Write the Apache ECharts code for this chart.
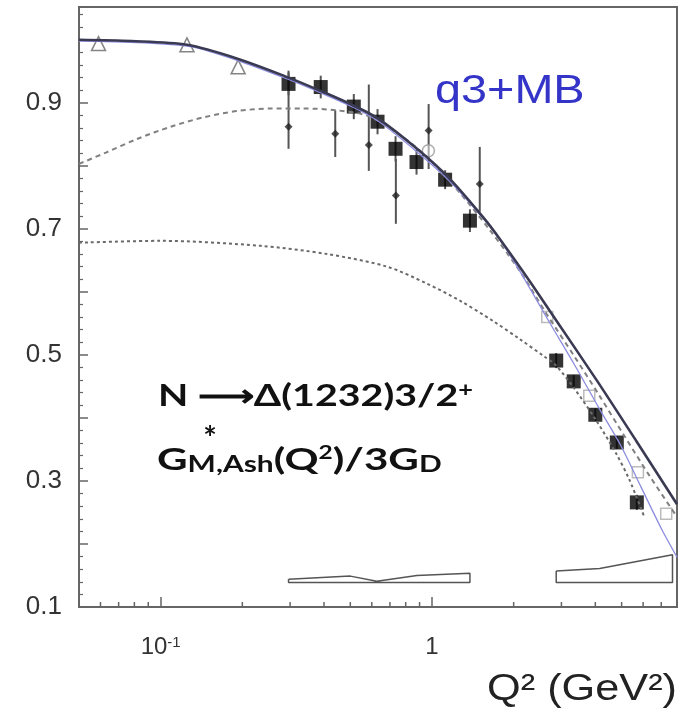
<!DOCTYPE html>
<html>
<head>
<meta charset="utf-8">
<title>N to Delta(1232) magnetic form factor</title>
<script src="https://cdn.jsdelivr.net/npm/echarts@6.0.0/dist/echarts.min.js"></script>
<style>
  html, body { margin: 0; padding: 0; background: #fff; }
  #chart { width: 680px; height: 720px; }
</style>
</head>
<body>
<div id="chart"></div>
<script>
// ---- values ----

// open triangles, low Q2
const triQ2 = [0.059, 0.125, 0.193];
const triG = [0.994, 0.992, 0.957];

// filled squares + their (small) errors
const sqQ2 = [0.296, 0.389, 0.515, 0.63, 0.734, 0.877, 1.118, 1.38, 2.87, 3.33, 4.0, 4.8, 5.69];
const sqG = [0.930, 0.925, 0.894, 0.870, 0.827, 0.806, 0.778, 0.713, 0.491, 0.458, 0.405, 0.361, 0.266];
const sqErr = [0.018, 0.018, 0.02, 0.02, 0.02, 0.02, 0.015, 0.018, 0.012, 0.01, 0.01, 0.01, 0.012];

// small dots with long error bars
const dotQ2 = [0.296, 0.44, 0.585, 0.736, 0.972, 1.50];
const dotG = [0.862, 0.851, 0.833, 0.753, 0.856, 0.771];
const dotLo = [0.827, 0.814, 0.792, 0.708, 0.795, 0.727];
const dotHi = [0.951, 0.888, 0.929, 0.811, 0.898, 0.830];

// open circle
const circQ2 = [0.97];
const circG = [0.824];

// faint open symbols, high Q2
const openQ2 = [2.66, 3.8, 5.74, 7.3];
const openG = [0.56, 0.435, 0.314, 0.248];

// solid curve
const solidQ2 = [0.05, 0.078, 0.125, 0.192, 0.296, 0.388, 0.5, 0.633, 0.881, 1.165, 1.54, 1.778, 2.292, 2.786, 4.044, 5.67, 8];
const solidG = [1.0, 0.998, 0.992, 0.970, 0.940, 0.919, 0.898, 0.875, 0.827, 0.779, 0.719, 0.684, 0.617, 0.563, 0.460, 0.363, 0.263];

// thin blue curve
const blueQ2 = [0.05, 0.125, 0.192, 0.296, 0.388, 0.5, 0.633, 0.881, 1.165, 1.54, 1.778, 2.107, 2.716, 3.356, 4.146, 4.954, 5.916, 7.07, 8];
const blueG = [0.998, 0.990, 0.967, 0.937, 0.916, 0.895, 0.871, 0.822, 0.775, 0.717, 0.683, 0.633, 0.551, 0.484, 0.414, 0.357, 0.289, 0.221, 0.179];

// upper dashed curve
const dashQ2 = [0.05, 0.0628, 0.0823, 0.1088, 0.1442, 0.192, 0.2543, 0.3357, 0.4474, 0.582, 0.763, 0.9586, 1.268, 1.634, 2.107, 2.645, 3.356, 4.146, 5.126, 6.34, 8];
const dashG = [0.803, 0.821, 0.843, 0.862, 0.877, 0.887, 0.891, 0.891, 0.888, 0.879, 0.849, 0.814, 0.757, 0.698, 0.633, 0.565, 0.497, 0.435, 0.371, 0.308, 0.243];

// lower dotted curve
const lowQ2 = [0.05, 0.1, 0.234, 0.411, 0.683, 0.9586, 1.268, 1.676, 2.107, 2.603, 2.855, 3.356, 4.044, 4.78, 5.34, 6.06];
const lowG = [0.678, 0.681, 0.673, 0.660, 0.640, 0.613, 0.586, 0.554, 0.525, 0.497, 0.484, 0.446, 0.395, 0.343, 0.302, 0.243];

// systematic bands (outlines)
const band1Q2 = [0.296, 0.5, 0.626, 0.88, 1.38, 1.38, 0.626, 0.296, 0.296];
const band1G = [0.144, 0.149, 0.141, 0.150, 0.1535, 0.139, 0.139, 0.139, 0.144];
const band2Q2 = [2.87, 4.15, 7.7, 7.7, 2.87, 2.87];
const band2G = [0.157, 0.161, 0.183, 0.139, 0.139, 0.157];

// axes
const xMin = 0.05, xMax = 8;
const yMin = 0.1, yMax = 1.052;
const xLabelVals = [0.1, 1];
const xLabelText = ['10{sup|-1}', '1'];
const xMinorTicks = [0.06, 0.07, 0.08, 0.09, 0.2, 0.3, 0.4, 0.5, 0.6, 0.7, 0.8, 0.9, 2, 3, 4, 5, 6, 7];

const zip = (a, b) => a.map((v, i) => [v, b[i]]);

const chart = echarts.init(document.getElementById('chart'));

function curve(xs, ys, style) {
  return {
    type: 'line',
    data: zip(xs, ys),
    showSymbol: false,
    smooth: 0.3,
    silent: true,
    lineStyle: style
  };
}

function errorBars(xs, lo, hi, color, width) {
  return {
    type: 'custom',
    silent: true,
    data: xs.map((x, i) => [x, lo[i], hi[i]]),
    encode: { x: 0, y: [1, 2] },
    renderItem: function (params, api) {
      const a = api.coord([api.value(0), api.value(1)]);
      const b = api.coord([api.value(0), api.value(2)]);
      return {
        type: 'line',
        shape: { x1: a[0], y1: a[1], x2: b[0], y2: b[1] },
        style: { stroke: color, lineWidth: width }
      };
    }
  };
}

const option = {
  animation: false,
  backgroundColor: '#fff',
  grid: {
    left: 79, right: 3, top: 7, height: 600,
    show: true, borderColor: '#666', borderWidth: 2, backgroundColor: '#fff'
  },
  xAxis: {
    type: 'log',
    logBase: 10,
    min: xMin,
    max: xMax,
    axisLine: { show: true, lineStyle: { color: '#666', width: 2 } },
    axisTick: { show: true, inside: true, length: 10, lineStyle: { color: '#666', width: 1.5 } },
    splitLine: { show: false },
    axisLabel: {
      margin: 28,
      color: '#333',
      fontSize: 24,
      fontFamily: 'Liberation Sans',
      formatter: function (v) {
        for (let i = 0; i < xLabelVals.length; i++) {
          if (Math.abs(v - xLabelVals[i]) < 1e-9) return xLabelText[i];
        }
        return '';
      },
      rich: {
        sup: { fontSize: 15, fontFamily: 'Liberation Sans', color: '#333', verticalAlign: 'top', padding: [0, 0, 10, 0] }
      }
    }
  },
  yAxis: {
    type: 'value',
    min: yMin,
    max: yMax,
    interval: 0.1,
    axisLine: { show: true, lineStyle: { color: '#666', width: 2 } },
    axisTick: { show: true, inside: true, length: 9, lineStyle: { color: '#666', width: 1.5 } },
    minorTick: { show: true, splitNumber: 5, length: 4, lineStyle: { color: '#666', width: 1.2 } },
    splitLine: { show: false },
    axisLabel: {
      margin: 17,
      color: '#333',
      fontSize: 26,
      fontFamily: 'Liberation Sans',
      formatter: function (v) {
        const k = Math.round(v * 10);
        return (k % 2 === 1 && k <= 9) ? (k / 10).toFixed(1) : '';
      }
    }
  },
  series: [
    // minor ticks along the log axis
    {
      type: 'custom',
      silent: true,
      data: xMinorTicks.map(v => [v, yMin]),
      renderItem: function (params, api) {
        const p = api.coord([api.value(0), api.value(1)]);
        return {
          type: 'line',
          shape: { x1: p[0], y1: p[1], x2: p[0], y2: p[1] - 5 },
          style: { stroke: '#666', lineWidth: 1.5 }
        };
      }
    },
    // bands
    {
      type: 'line', data: zip(band1Q2, band1G), showSymbol: false, silent: true,
      lineStyle: { color: '#555', width: 1.5 }
    },
    {
      type: 'line', data: zip(band2Q2, band2G), showSymbol: false, silent: true,
      lineStyle: { color: '#555', width: 1.5 }
    },
    curve(lowQ2, lowG, { color: '#6a6a6a', width: 2, type: [3, 3] }),
    curve(dashQ2, dashG, { color: '#808080', width: 2, type: [5, 4] }),
    curve(blueQ2, blueG, { color: '#8c8ce0', width: 1.3 }),
    curve(solidQ2, solidG, { color: '#3a3a52', width: 2.6 }),
    errorBars(dotQ2, dotLo, dotHi, '#555', 2),
    errorBars(sqQ2, sqG.map((g, i) => g - sqErr[i]), sqG.map((g, i) => g + sqErr[i]), '#555', 2),
    {
      type: 'scatter', data: zip(dotQ2, dotG), symbol: 'diamond', symbolSize: 8, silent: true,
      itemStyle: { color: '#222' }
    },
    {
      type: 'scatter', data: zip(openQ2, openG), symbol: 'rect', symbolSize: 11, silent: true,
      itemStyle: { color: 'rgba(255,255,255,0)', borderColor: '#aaa', borderWidth: 1.5 }
    },
    {
      type: 'scatter', data: zip(circQ2, circG), symbol: 'circle', symbolSize: 12, silent: true,
      itemStyle: { color: 'rgba(255,255,255,0.6)', borderColor: '#999', borderWidth: 1.5 }
    },
    {
      type: 'scatter', data: zip(triQ2, triG), symbol: 'triangle', symbolSize: 14, silent: true,
      itemStyle: { color: '#fff', borderColor: '#666', borderWidth: 1.5 }
    },
    {
      type: 'scatter', data: zip(sqQ2, sqG), symbol: 'rect', symbolSize: 14, silent: true,
      itemStyle: { color: '#000' }
    }
  ],
  graphic: [
    {
      type: 'text', x: 435, y: 92, scaleX: 1.17, silent: true,
      style: { text: 'q3+MB', font: '40px "Liberation Sans"', fill: '#3434c8', verticalAlign: 'middle', align: 'left' }
    },
    {
      type: 'text', x: 158, y: 396, scaleX: 1.27, silent: true,
      style: {
        text: 'N \u27F6\u0394(1232)3/2{sup|+}',
        font: 'bold 31px Lato', fill: '#111', verticalAlign: 'middle', align: 'left',
        rich: {
          sup: { font: 'bold 20px Lato', fill: '#111', verticalAlign: 'top', lineHeight: 14 }
        }
      }
    },
    {
      type: 'text', x: 157, y: 460, scaleX: 1.36, silent: true,
      style: {
        text: 'G{sub|M,Ash}(Q{sup|2})/3G{sub|D}',
        font: 'bold 31px Lato', fill: '#111', verticalAlign: 'middle', align: 'left',
        rich: {
          sub: { font: 'bold 22px Lato', fill: '#111', verticalAlign: 'bottom', lineHeight: 14 },
          sup: { font: 'bold 18px Lato', fill: '#111', verticalAlign: 'top', lineHeight: 14 }
        }
      }
    },
    {
      type: 'text', x: 210, y: 440, silent: true,
      style: { text: '*', font: 'bold 32px Lato', fill: '#111', verticalAlign: 'middle', align: 'center' }
    },
    {
      type: 'text', x: 677, y: 690, scaleX: 1.17, silent: true,
      style: { text: 'Q\u00B2 (GeV\u00B2)', font: '37px "Liberation Sans"', fill: '#222', verticalAlign: 'middle', align: 'right' }
    }
  ]
};

chart.setOption(option);
</script>
</body>
</html>
